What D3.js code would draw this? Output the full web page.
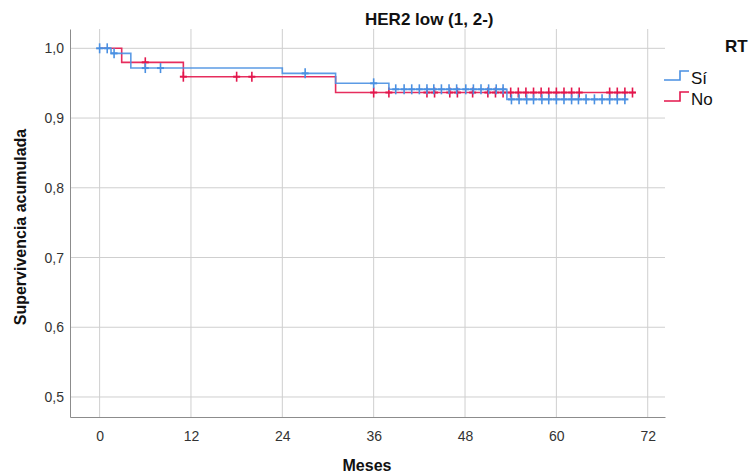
<!DOCTYPE html>
<html>
<head>
<meta charset="utf-8">
<script src="https://cdn.jsdelivr.net/npm/d3@7"></script>
<style>
  html, body { margin: 0; padding: 0; background: #fff; }
  svg { display: block; font-family: "Liberation Sans", Arial, sans-serif; }
</style>
</head>
<body>
<svg id="chart" width="754" height="474"></svg>
<script>
// Kaplan–Meier survival, HER2 low (1, 2-), by RT group
const groups = ["Sí", "No"];
const groupColors = ["#4a90e2", "#e3164c"];

// Step drops: month of the event and survival after it
const siEventMonths = [1.5, 4.1, 24, 31, 38, 53.5];
const siSurvival    = [0.9928, 0.9717, 0.9641, 0.9498, 0.9412, 0.9268];
const siEndMonth = 69.2;
const siCensored = [0, 1, 1.9, 6, 8, 27, 36, 38.9, 40, 41, 42, 43, 43.9, 44.9, 45.9, 46.9,
  48.1, 49.1, 50.1, 51.1, 52.1, 53, 54.1, 55.1, 56.1, 57, 58.1, 59, 60, 61, 62, 62.9,
  63.9, 65, 66, 67, 68, 69];

const noEventMonths = [2.9, 11, 31];
const noSurvival    = [0.9799, 0.9593, 0.9366];
const noEndMonth = 70.4;
const noCensored = [6, 11, 18, 20, 36, 38, 43, 44, 46, 47, 49, 51, 52, 53, 54, 55, 56, 57,
  58, 59, 60, 61, 62, 63, 67, 68, 69, 70];

const xTicks = [0, 12, 24, 36, 48, 60, 72];
const yTicks = [0.5, 0.6, 0.7, 0.8, 0.9, 1.0];

const svg = d3.select("#chart");
const plot = { left: 70, right: 665, top: 29, bottom: 417 };

const x = d3.scaleLinear().domain([-3.89, 74.27]).range([plot.left, plot.right]);
const y = d3.scaleLinear().domain([0.4713, 1.0277]).range([plot.bottom, plot.top]);
const fmt = v => d3.format(".1f")(v).replace(".", ",");

// Grid lines
const grid = svg.append("g");
grid.selectAll("line.gx").data(xTicks).join("line")
  .attr("x1", d => x(d)).attr("x2", d => x(d))
  .attr("y1", plot.top).attr("y2", plot.bottom)
  .attr("stroke", "#cfcfcf").attr("stroke-width", 1);
grid.selectAll("line.gy").data(yTicks).join("line")
  .attr("x1", plot.left).attr("x2", plot.right)
  .attr("y1", d => y(d)).attr("y2", d => y(d))
  .attr("stroke", "#cfcfcf").attr("stroke-width", 1);

// Axes
const xAxis = svg.append("g")
  .attr("transform", `translate(0,${plot.bottom})`)
  .call(d3.axisBottom(x).tickValues(xTicks).tickSize(0).tickPadding(14).tickFormat(d3.format("d")));
const yAxis = svg.append("g")
  .attr("transform", `translate(${plot.left},0)`)
  .call(d3.axisLeft(y).tickValues(yTicks).tickSize(0).tickPadding(6).tickFormat(fmt));
[xAxis, yAxis].forEach(a => {
  a.select(".domain").attr("stroke", "#8c8c8c").attr("stroke-width", 1);
  a.selectAll("text").attr("fill", "#333").style("font-size", "14px")
    .style("font-family", "'Liberation Sans', Arial, sans-serif");
});

// Survival step curves
function stepPoints(months, surv, end) {
  const pts = [[0, 1]];
  let s = 1;
  months.forEach((m, i) => { pts.push([m, s]); s = surv[i]; pts.push([m, s]); });
  pts.push([end, s]);
  return pts;
}
function levelAt(months, surv, t) {
  let s = 1;
  months.forEach((m, i) => { if (t >= m) s = surv[i]; });
  return s;
}
const series = [
  { months: noEventMonths, surv: noSurvival, end: noEndMonth, cens: noCensored, color: groupColors[1] },
  { months: siEventMonths, surv: siSurvival, end: siEndMonth, cens: siCensored, color: groupColors[0] }
];
const line = d3.line().x(d => x(d[0])).y(d => y(d[1]));
series.forEach(sr => {
  const g = svg.append("g");
  g.append("path").datum(stepPoints(sr.months, sr.surv, sr.end))
    .attr("d", line).attr("fill", "none")
    .attr("stroke", sr.color).attr("stroke-width", 1.6).attr("stroke-opacity", 0.9);
  const marks = g.selectAll("g.c").data(sr.cens).join("g")
    .attr("transform", d => `translate(${x(d)},${y(levelAt(sr.months, sr.surv, d))})`);
  marks.append("line").attr("x1", 0).attr("x2", 0).attr("y1", -5).attr("y2", 5)
    .attr("stroke", sr.color).attr("stroke-width", 1.6);
  marks.append("line").attr("x1", -3.5).attr("x2", 3.5).attr("y1", 0).attr("y2", 0)
    .attr("stroke", sr.color).attr("stroke-width", 2);
});

// Titles
svg.append("text").attr("x", 365).attr("y", 25)
  .style("font-size", "17px").style("font-weight", "bold").attr("fill", "#111")
  .text("HER2 low (1, 2-)");
svg.append("text").attr("x", 367).attr("y", 471).attr("text-anchor", "middle")
  .style("font-size", "16px").style("font-weight", "bold").attr("fill", "#111")
  .text("Meses");
svg.append("text").attr("transform", "translate(26,227) rotate(-90)").attr("text-anchor", "middle")
  .style("font-size", "16px").style("font-weight", "bold").attr("fill", "#111")
  .text("Supervivencia acumulada");

// Legend
const legend = svg.append("g");
legend.append("text").attr("x", 725).attr("y", 52)
  .style("font-size", "17px").style("font-weight", "bold").attr("fill", "#111").text("RT");
const legendRows = [80, 101];
groups.forEach((name, i) => {
  const yl = legendRows[i];
  legend.append("path")
    .attr("d", `M664,${yl}H680V${yl - 9}H689`)
    .attr("fill", "none").attr("stroke", groupColors[i]).attr("stroke-width", 1.6);
  legend.append("text").attr("x", 691).attr("y", yl + 4)
    .style("font-size", "17px").attr("fill", "#111").text(name);
});
</script>
</body>
</html>
